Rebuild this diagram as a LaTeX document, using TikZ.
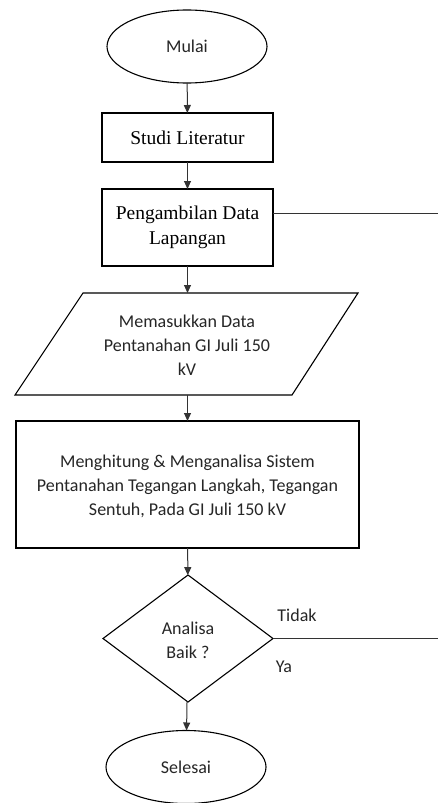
\documentclass[tikz,border=0pt]{standalone}
\usepackage{fontspec}
\setmainfont{Carlito}
\newfontfamily\seriffont{Liberation Serif}
\usetikzlibrary{shapes.geometric,arrows.meta,calc}
\begin{document}
\begin{tikzpicture}[x=1pt,y=-1pt,
  line width=1.1pt,
  every node/.style={inner sep=0pt, outer sep=0pt},
  sanstext/.style={font=\fontsize{18}{24}\selectfont, text=black!85, align=center},
  seriftext/.style={font=\seriffont\fontsize{19.5}{25}\selectfont, text=black, align=center},
  term/.style={draw, ellipse, minimum width=160pt, minimum height=73pt, sanstext},
  procbox/.style={draw, rectangle, seriftext},
  flow/.style={-{Triangle[width=7pt,length=8pt]}, line width=1pt, black!80}
]
\fill[white] (0,0) rectangle (438,803);
\useasboundingbox (0,0) rectangle (438,803);

\node[term] (mulai) at (187,46.5) {Mulai};
\node[procbox, minimum width=171pt, minimum height=49pt] (studi) at (187.5,137.5) {Studi Literatur};
\node[procbox, minimum width=171pt, minimum height=77pt] (peng) at (187.5,227.5) {Pengambilan Data\\Lapangan};
\node[minimum width=343pt, minimum height=102pt] (input) at (186.5,344) {};
\draw ($(input.north west)+(68,0)$) -- (input.north east) -- ($(input.south east)+(-66,0)$) -- (input.south west) -- cycle;
\node[sanstext] at (187,345.5) {Memasukkan Data\\Pentanahan GI Juli 150\\kV};
\node[draw, minimum width=343pt, minimum height=127pt] (hitung) at (187.5,484.5) {};
\node[sanstext] at (187.5,486) {Menghitung \& Menganalisa Sistem\\Pentanahan Tegangan Langkah, Tegangan\\Sentuh, Pada GI Juli 150 kV};
\node[draw, diamond, minimum width=170pt, minimum height=127pt] (analisa) at (188,638.5) {};
\node[sanstext] at (188,640) {Analisa\\Baik ?};
\node[term] (selesai) at (186,767) {Selesai};

\node[sanstext] (tidak) at (297,615) {Tidak};
\node[sanstext] (ya) at (284,667) {Ya};

\coordinate (pend) at (438,213);
\coordinate (aend) at (438,638.5);

\draw[flow] (mulai) -- (studi);
\draw[flow] (studi) -- (peng);
\draw[flow] (peng) -- (input.north -| peng.south);
\draw[flow] (input.south -| hitung.north) -- (hitung);
\draw[flow] (hitung) -- (analisa);
\draw[flow] (analisa) -- (selesai);
\draw[line width=1pt, black!80] (peng.east |- pend) -- (pend);
\draw[line width=1pt, black!80] (analisa.east) -- (aend);
\end{tikzpicture}
\end{document}
